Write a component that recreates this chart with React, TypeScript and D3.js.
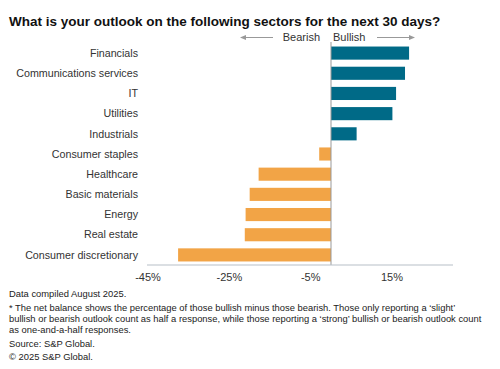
import React from 'react'
import * as d3 from 'd3'

const sectors = [
  'Financials',
  'Communications services',
  'IT',
  'Utilities',
  'Industrials',
  'Consumer staples',
  'Healthcare',
  'Basic materials',
  'Energy',
  'Real estate',
  'Consumer discretionary'
]
const netBalance = [19.2, 18.2, 16.0, 15.1, 6.3, -2.9, -17.8, -20.0, -21.0, -21.2, -37.6]
const xTicks = [-45, -25, -5, 15]
const xDomain = [-45, 30]

const title = 'What is your outlook on the following sectors for the next 30 days?'
const footnotes = [
  'Data compiled August 2025.',
  '* The net balance shows the percentage of those bullish minus those bearish. Those only reporting a \u2018slight\u2019',
  'bullish or bearish outlook count as half a response, while those reporting a \u2018strong\u2019 bullish or bearish outlook count',
  'as one-and-a-half responses.',
  'Source: S&P Global.',
  '\u00a9 2025 S&P Global.'
]

const BULL = '#006a87'
const BEAR = '#f2a446'
const FONT = 'Arial, "Liberation Sans", sans-serif'

export default function App() {
  const width = 500
  const height = 369
  const plot = { left: 148, right: 453, top: 43, bottom: 265 }

  const x = d3.scaleLinear().domain(xDomain).range([plot.left, plot.right])
  const y = d3.scaleBand().domain(sectors).range([plot.top, plot.bottom]).paddingInner(0.35).paddingOuter(0.175)
  const zero = x(0)

  const footY = [297, 310.5, 321.5, 332.5, 346.5, 360]

  return (
    <svg width={width} height={height} viewBox={`0 0 ${width} ${height}`} style={{ position: 'absolute', left: 0, top: 0, background: '#fff' }} fontFamily={FONT}>
      <text x={9} y={26} fontSize={13.5} fontWeight="bold" fill="#111">{title}</text>

      {/* bearish / bullish header */}
      <g fill="#999" stroke="#999">
        <line x1={244} x2={273} y1={37.5} y2={37.5} strokeWidth={1} />
        <path d="M240,37.5 L246,35 L246,40 Z" stroke="none" />
        <line x1={377} x2={410} y1={37.5} y2={37.5} strokeWidth={1} />
        <path d="M415,37.5 L409,35 L409,40 Z" stroke="none" />
      </g>
      <text x={320} y={41} textAnchor="end" fontSize={11} fill="#333">Bearish</text>
      <text x={333} y={41} fontSize={11} fill="#333">Bullish</text>

      {sectors.map((s, i) => {
        const v = netBalance[i]
        const y0 = y(s) as number
        return (
          <g key={s}>
            <rect x={Math.min(x(v), zero)} y={y0} width={Math.abs(x(v) - zero)} height={y.bandwidth()} fill={v >= 0 ? BULL : BEAR} />
            <text x={138} y={y0 + y.bandwidth() / 2} dy="0.35em" textAnchor="end" fontSize={10.7} fill="#333">{s}</text>
          </g>
        )
      })}

      <line x1={zero} x2={zero} y1={42} y2={plot.bottom} stroke="#999" strokeWidth={1} />
      <line x1={plot.left - 1} x2={plot.right} y1={plot.bottom} y2={plot.bottom} stroke="#b8c0c8" strokeWidth={1.2} />

      {xTicks.map(t => (
        <text key={t} x={x(t)} y={281} textAnchor="middle" fontSize={11} fill="#333">{`${t}%`}</text>
      ))}

      {footnotes.map((line, i) => (
        <text key={i} x={9} y={footY[i]} fontSize={9.4} fill="#222">{line}</text>
      ))}
    </svg>
  )
}
